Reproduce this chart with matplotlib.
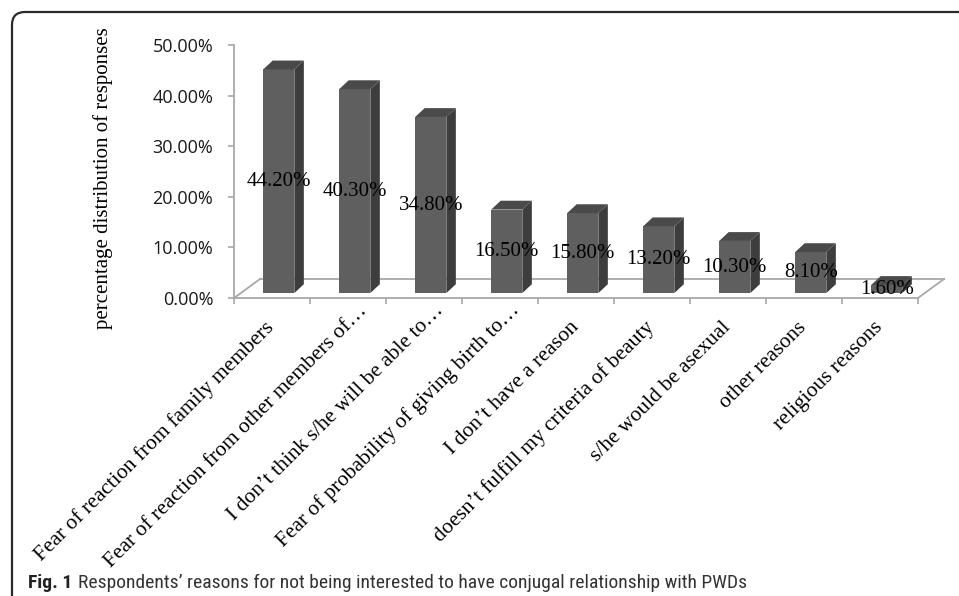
import matplotlib
matplotlib.use("Agg")
import matplotlib.pyplot as plt
import matplotlib.patches as mpatches
import matplotlib.transforms as mtransforms
from matplotlib import font_manager

# ---------------- data ----------------
categories = [
    "Fear of reaction from family members",
    "Fear of reaction from other members of\u2026",
    "I don\u2019t think s/he will be able to\u2026",
    "Fear of probability of giving birth to\u2026",
    "I don\u2019t have a reason",
    "doesn\u2019t fulfill my criteria of beauty",
    "s/he would be asexual",
    "other reasons",
    "religious reasons",
]
values = [44.20, 40.30, 34.80, 16.50, 15.80, 13.20, 10.30, 8.10, 1.60]
yticks = [0, 10, 20, 30, 40, 50]
ytick_labels = ["0.00%", "10.00%", "20.00%", "30.00%", "40.00%", "50.00%"]
ylabel = "percentage distribution of responses"
caption_bold = "Fig. 1"
caption_text = "Respondents\u2019 reasons for not being interested to have conjugal relationship with PWDs"


def pick(*names):
    avail = {f.name for f in font_manager.fontManager.ttflist}
    for n in names:
        if n in avail:
            return n
    return "DejaVu Sans"


SERIF = pick("Liberation Serif", "DejaVu Serif")
TICKF = pick("Open Sans", "Liberation Sans", "DejaVu Sans")
CAPF = pick("Liberation Sans Narrow", "Roboto Condensed", "Open Sans Condensed",
            "Roboto", "Open Sans", "DejaVu Sans")

W, H = 959, 596
fig = plt.figure(figsize=(W / 100, H / 100), dpi=100)
fig.patch.set_facecolor("white")

# rounded frame (decoration)
frame = mpatches.FancyBboxPatch((12, -60), 1100, H - 12 + 60,
                                boxstyle="round,pad=0,rounding_size=13",
                                transform=None, fill=False,
                                edgecolor="#2b2b2b", linewidth=1.6)
fig.patches.append(frame)

ax = fig.add_axes([234 / W, (H - 298) / H, 684 / W, 253 / H])
ax.set_xlim(-0.5, len(values) - 0.5)
ax.set_ylim(0, 50)
ax.patch.set_alpha(0)

AX_COL = "#a8a8a8"
for s in ("top", "right"):
    ax.spines[s].set_visible(False)
for s in ("left", "bottom"):
    ax.spines[s].set_color(AX_COL)
    ax.spines[s].set_linewidth(1.3)

# 3D depth constants (in data units)
FDX, FDY = 0.342, 3.75          # floor depth
D0 = 0.26                        # bar front position within depth
XOFF, YOFF = D0 * FDX, D0 * FDY
BW = 0.41
SDX, SDY = 0.125, 1.75           # bar depth

x0, x1 = ax.get_xlim()
floor_kw = dict(color=AX_COL, lw=1.3, clip_on=False, zorder=1)
ax.plot([x0, x0 + FDX], [0, FDY], **floor_kw)
ax.plot([x0 + FDX, x1 + FDX], [FDY, FDY], **floor_kw)
ax.plot([x1, x1 + FDX], [0, FDY], **floor_kw)

xs = list(range(len(values)))
FRONT, SIDE, TOP = "#5f5f5f", "#3d3d3d", "#4a4a4a"
ax.bar([x + XOFF for x in xs], values, width=BW, bottom=YOFF,
       color=FRONT, zorder=3, linewidth=0)
for x, v in zip(xs, values):
    xl = x + XOFF - BW / 2
    xr = x + XOFF + BW / 2
    top = YOFF + v
    ax.add_patch(mpatches.Polygon(
        [(xr, YOFF), (xr + SDX, YOFF + SDY), (xr + SDX, top + SDY), (xr, top)],
        closed=True, facecolor=SIDE, edgecolor="none", zorder=3, clip_on=False))
    ax.add_patch(mpatches.Polygon(
        [(xl, top), (xl + SDX, top + SDY), (xr + SDX, top + SDY), (xr, top)],
        closed=True, facecolor=TOP, edgecolor="none", zorder=3, clip_on=False))
    ax.text(x + XOFF, YOFF + v / 2, f"{v:.2f}%", ha="center", va="center",
            fontsize=15, family=SERIF, color="black", zorder=5)

# y axis
ax.set_yticks(yticks)
ax.set_yticklabels(ytick_labels, family=TICKF, fontsize=13, color="#1a1a1a")
ax.tick_params(axis="y", length=4, width=1.2, color=AX_COL, pad=11)

# x ticks at category boundaries
ax.set_xticks([i - 0.5 for i in range(len(values) + 1)])
ax.set_xticklabels([])
ax.tick_params(axis="x", length=4, width=1.2, color=AX_COL)

# rotated category labels
for i, lab in enumerate(categories):
    if lab.endswith("\u2026"):
        dx, dy = 20, -13
    else:
        dx, dy = 3, -30
    tr = mtransforms.offset_copy(ax.get_xaxis_transform(), fig=fig,
                                 x=dx, y=dy, units="dots")
    ax.text(i, 0, lab, transform=tr, rotation=45, rotation_mode="anchor",
            ha="right", va="baseline", fontsize=15.5, family=SERIF,
            color="black", clip_on=False)

fig.text(103 / W, (H - 178) / H, ylabel, rotation=90, ha="center",
         va="center", fontsize=15, family=SERIF, color="black")

# caption, sized to span the same width as the reference
renderer = fig.canvas.get_renderer()
CAP_SIZE = 14
t1 = fig.text(28 / W, 8 / H, caption_bold, fontsize=CAP_SIZE, family=CAPF,
              fontweight="bold", ha="left", va="baseline", color="#222222")
t2 = fig.text(0, 8 / H, caption_text, fontsize=CAP_SIZE, family=CAPF,
              ha="left", va="baseline", color="#333333")
w1 = t1.get_window_extent(renderer).width
w2 = t2.get_window_extent(renderer).width
target = 776 - 28
scale = min(1.0, target / (w1 + w2 + 6))
t1.set_fontsize(CAP_SIZE * scale)
t2.set_fontsize(CAP_SIZE * scale)
bb = t1.get_window_extent(renderer)
t2.set_x((bb.x1 + 6 * scale) / W)

fig.savefig("out.png", dpi=100, facecolor="white")
